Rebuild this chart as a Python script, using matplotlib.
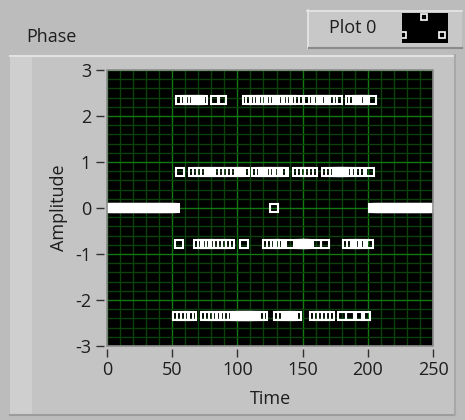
import numpy as np
import matplotlib
matplotlib.use("Agg")
import matplotlib.pyplot as plt
from matplotlib.patches import Rectangle

plt.rcParams["font.family"] = ["Open Sans", "DejaVu Sans"]
plt.rcParams["axes.unicode_minus"] = False

# Phase levels (radians)
levels = {"p3": 3 * np.pi / 4, "p1": np.pi / 4, "m1": -np.pi / 4, "m3": -3 * np.pi / 4}

# sample times sitting on each phase level
t_p3 = [56, 60, 62, 64, 66, 68, 70, 71, 74, 83, 88,
        107, 110, 113, 116, 118, 120, 122, 124, 126, 128, 131, 133, 135, 137,
        139, 141, 144, 147,
        154, 158, 160, 162, 164, 166, 168, 171, 173, 177,
        186, 189, 192, 194, 195, 196, 197, 198, 203]
t_p1 = [56,
        66, 69, 72, 75, 78, 80, 83, 86, 89, 92, 95, 98, 101, 103, 106,
        114, 117, 120, 122, 124, 126, 128, 131, 134, 136,
        146, 149, 152, 155, 158,
        168, 171, 174, 176, 177, 178, 179, 180, 181, 182, 184, 187, 191, 194,
        202]
t_m1 = [55,
        70, 73, 75, 77, 79, 82, 85, 88, 91, 94,
        105,
        123, 126, 129, 131, 133, 140, 147, 148, 149, 150, 151, 152, 153, 154,
        161, 167,
        184, 187, 190, 192, 194, 196, 201]
t_m3 = [54, 57, 60, 63, 65,
        75, 78, 81, 84, 87, 90, 93, 96, 98, 100, 101, 102, 103, 104, 105, 106,
        107, 108, 109, 110, 111, 112, 114, 117, 120,
        131, 134, 137, 139, 141, 143, 146,
        159, 162, 165, 168, 171,
        180, 186,
        194, 199]
t_zero_single = [128]
zero_runs = [(0, 52), (204, 250)]

xticks = [0, 50, 100, 150, 200, 250]
yticks = [-3, -2, -1, 0, 1, 2, 3]

W, H = 465, 420
fig = plt.figure(figsize=(W / 100, H / 100), dpi=100)
fig.patch.set_facecolor("#bcbcbc")

# background / panel drawing in pixel coordinates
bg = fig.add_axes([0, 0, 1, 1])
bg.set_xlim(0, W)
bg.set_ylim(H, 0)
bg.axis("off")
bg.add_patch(Rectangle((10, 55), 445, 360, facecolor="#c4c4c4", edgecolor="none"))
bg.add_patch(Rectangle((10, 55), 22, 360, facecolor="#cfcfcf", edgecolor="none"))
bg.plot([10, 455], [55.5, 55.5], color="#e2e2e2", lw=1.5)
bg.plot([10, 455], [414.5, 414.5], color="#9c9c9c", lw=1.5)
bg.plot([454.5, 454.5], [55, 415], color="#a8a8a8", lw=1.5)

fs = 13
bg.text(26, 37, "Phase", fontsize=fs, color="#1e1e1e", va="center", ha="left")

# legend box
bg.add_patch(Rectangle((307, 10), 155, 38, facecolor="#c8c8c8", edgecolor="none"))
bg.plot([307, 462], [10.5, 10.5], color="#e6e6e6", lw=1.2)
bg.plot([307.5, 307.5], [10, 48], color="#e6e6e6", lw=1.2)
bg.plot([309, 462], [47.5, 47.5], color="#8a8a8a", lw=1.5)
bg.text(329, 28, "Plot 0", fontsize=fs, color="#1e1e1e", va="center", ha="left")
sw = Rectangle((402, 13), 46, 30, facecolor="black", edgecolor="none")
bg.add_patch(sw)
for sx, sy in [(403, 35), (424, 17), (442, 35)]:
    ln, = bg.plot([sx], [sy], "s", ms=3.8, mfc="none", mec="white", mew=1.2)
    ln.set_clip_path(sw)

# graph
ax = fig.add_axes([107 / W, 1 - 346 / H, (433 - 107) / W, (346 - 70) / H])
ax.set_facecolor("black")

mk = dict(marker="s", ms=5.2, mfc="none", mec="white", mew=1.5, ls="none")
for a, b in zero_runs:
    tt = np.arange(a, b + 1)
    ax.plot(tt, np.zeros_like(tt), **mk)
ax.plot(t_zero_single, [0] * len(t_zero_single), **mk)
ax.plot(t_p3, [levels["p3"]] * len(t_p3), **mk)
ax.plot(t_p1, [levels["p1"]] * len(t_p1), **mk)
ax.plot(t_m1, [levels["m1"]] * len(t_m1), **mk)
ax.plot(t_m3, [levels["m3"]] * len(t_m3), **mk)

ax.set_xlim(0, 250)
ax.set_ylim(-3, 3)
ax.set_xticks(xticks)
ax.set_yticks(yticks)
ax.set_xticks(np.arange(0, 251, 10), minor=True)
ax.set_yticks(np.arange(-3, 3.01, 0.2), minor=True)
ax.grid(which="minor", color="#0a420a", lw=1.0)
ax.grid(which="major", color="#127a12", lw=1.0)
ax.set_axisbelow(True)
ax.tick_params(which="minor", length=0)
ax.tick_params(which="major", direction="out", length=6, width=1, color="#303030",
               labelsize=fs, labelcolor="#1e1e1e")
ax.tick_params(axis="y", pad=3)
ax.tick_params(axis="x", pad=2)
ax.spines["left"].set_position(("outward", 2.5))
ax.spines["bottom"].set_position(("outward", 2.5))
for s in ax.spines.values():
    s.set_color("none")
ax.add_patch(Rectangle((0, 0), 1, 1, transform=ax.transAxes, fill=False,
                       edgecolor="#8c8c8c", lw=1.2, clip_on=False, zorder=5))

ax.set_xlabel("Time", fontsize=fs, color="#1e1e1e", labelpad=8)
ax.set_ylabel("Amplitude", fontsize=fs, color="#1e1e1e", labelpad=5)

fig.savefig("out.png", dpi=100, facecolor=fig.get_facecolor())
